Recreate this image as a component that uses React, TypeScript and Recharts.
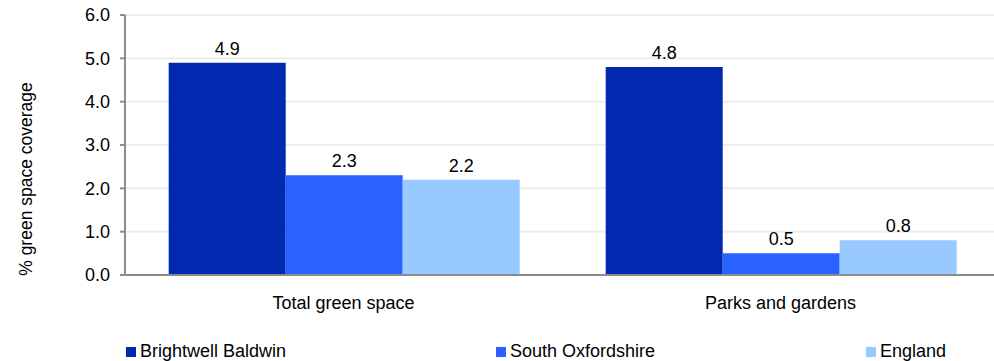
import { Bar, BarChart, CartesianGrid, LabelList, Legend, XAxis, YAxis } from "recharts";

const categories = ["Total green space", "Parks and gardens"];
const brightwellBaldwin = [4.9, 4.8];
const southOxfordshire = [2.3, 0.5];
const england = [2.2, 0.8];
const yTicks = [0, 1, 2, 3, 4, 5, 6];
const boundaryTicks = [0, 1, 2];

const SERIES = [
  { key: "bb", name: "Brightwell Baldwin", color: "#0029b0" },
  { key: "so", name: "South Oxfordshire", color: "#2962ff" },
  { key: "en", name: "England", color: "#99caff" },
];

const FONT = "'Liberation Sans', Arial, sans-serif";
const FS = 18;

const data = categories.map((name, i) => ({
  name,
  idx: i,
  bb: brightwellBaldwin[i],
  so: southOxfordshire[i],
  en: england[i],
}));

const LegendBox = () => (
  <div style={{ position: "relative", height: 20, fontFamily: FONT, fontSize: FS, color: "#000" }}>
    {SERIES.map((s, i) => (
      <div key={s.key} style={{ position: "absolute", left: 126 + i * 370, top: 0, display: "flex", alignItems: "center" }}>
        <span style={{ width: 10, height: 10, background: s.color, marginRight: 4, display: "inline-block" }} />
        <span>{s.name}</span>
      </div>
    ))}
  </div>
);

const YLabel = (props: any) => {
  const { viewBox } = props;
  const cx = 26;
  const cy = viewBox.y + viewBox.height / 2 + 34;
  return (
    <text x={cx} y={cy} transform={`rotate(-90 ${cx} ${cy})`} textAnchor="middle" dominantBaseline="central" fontFamily={FONT} fontSize={17.5} fill="#000">
      % green space coverage
    </text>
  );
};

export default function App() {
  return (
    <div style={{ position: "absolute", left: 0, top: 0, width: 994, height: 361, overflow: "hidden", background: "#fff" }}>
      <BarChart
        width={1000}
        height={361}
        data={data}
        margin={{ top: 15, right: 1, bottom: 0, left: 0 }}
        barCategoryGap="10%"
        barGap={0}
      >
        <CartesianGrid stroke="#ececec" strokeWidth={2} vertical={false} />
        <CartesianGrid stroke="#ececec" strokeWidth={2} horizontal={false} xAxisId="b" />
        <XAxis
          xAxisId="b"
          type="number"
          dataKey="idx"
          domain={[0, 2]}
          ticks={boundaryTicks}
          height={0}
          tick={false}
          tickLine={{ stroke: "#8c8c8c", strokeWidth: 2 }}
          tickSize={6}
          axisLine={false}
        />
        <XAxis
          dataKey="name"
          height={66}
          tickLine={false}
          tickMargin={15}
          axisLine={{ stroke: "#8c8c8c", strokeWidth: 2 }}
          tick={{ fill: "#000", fontSize: FS, fontFamily: FONT }}
        />
        <YAxis
          width={125}
          domain={[0, 6]}
          ticks={yTicks}
          interval={0}
          tickFormatter={(v: number) => v.toFixed(1)}
          tick={{ fill: "#000", fontSize: FS, fontFamily: FONT }}
          tickLine={{ stroke: "#8c8c8c", strokeWidth: 2 }}
          tickSize={5}
          tickMargin={10}
          axisLine={{ stroke: "#8c8c8c", strokeWidth: 2 }}
          label={<YLabel />}
        />
        <Legend verticalAlign="bottom" content={<LegendBox />} wrapperStyle={{ left: 0, width: 1000, bottom: 0 }} />
        {SERIES.map((s) => (
          <Bar key={s.key} dataKey={s.key} name={s.name} fill={s.color} isAnimationActive={false}>
            <LabelList dataKey={s.key} position="top" offset={8} formatter={(v: any) => Number(v).toFixed(1)} style={{ fill: "#000", fontSize: FS, fontFamily: FONT }} />
          </Bar>
        ))}
      </BarChart>
    </div>
  );
}
